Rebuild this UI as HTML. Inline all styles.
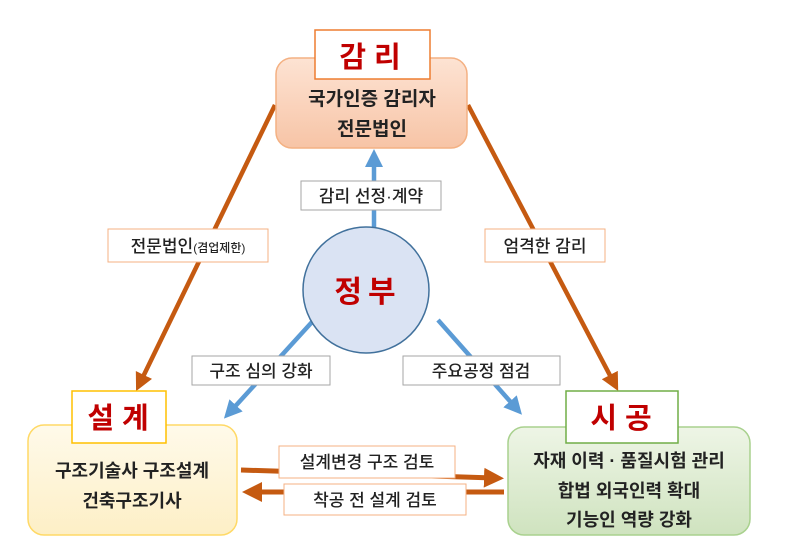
<!DOCTYPE html>
<html><head><meta charset="utf-8"><style>
body{margin:0;background:#fff;}
svg text{font-family:"Liberation Sans","Noto Sans CJK KR",sans-serif;}
</style></head><body>
<svg width="800" height="555" viewBox="0 0 800 555" xmlns="http://www.w3.org/2000/svg">
<defs>
<linearGradient id="gTop" x1="0" y1="0" x2="0" y2="1"><stop offset="0" stop-color="#fde3d3"/><stop offset="1" stop-color="#f7c4a6"/></linearGradient>
<linearGradient id="gL" x1="0" y1="0" x2="0" y2="1"><stop offset="0" stop-color="#fffaea"/><stop offset="1" stop-color="#fdefc6"/></linearGradient>
<linearGradient id="gR" x1="0" y1="0" x2="0" y2="1"><stop offset="0" stop-color="#eef5e6"/><stop offset="1" stop-color="#cfe3bf"/></linearGradient>
<marker id="ao" markerWidth="4" markerHeight="4" refX="2" refY="2" orient="auto" markerUnits="strokeWidth"><path d="M0,0 L4,2 L0,4z" fill="#c55a11"/></marker>
<marker id="ab" markerWidth="4" markerHeight="4" refX="2" refY="2" orient="auto" markerUnits="strokeWidth"><path d="M0,0 L4,2 L0,4z" fill="#5b9bd5"/></marker>
</defs>
<line x1="275" y1="105" x2="140" y2="383" stroke="#c55a11" stroke-width="4.5" marker-end="url(#ao)"/>
<line x1="468" y1="105" x2="614" y2="383" stroke="#c55a11" stroke-width="4.5" marker-end="url(#ao)"/>
<line x1="374" y1="228" x2="374" y2="158" stroke="#5b9bd5" stroke-width="4.5" marker-end="url(#ab)"/>
<line x1="312" y1="322" x2="230" y2="412" stroke="#5b9bd5" stroke-width="4.5" marker-end="url(#ab)"/>
<line x1="438" y1="320" x2="516" y2="408" stroke="#5b9bd5" stroke-width="4.5" marker-end="url(#ab)"/>
<rect x="276" y="58" width="191" height="90" rx="16" fill="url(#gTop)" stroke="#f4b183" stroke-width="1.5"/>
<rect x="315" y="30" width="115" height="49" fill="#fff" stroke="#ed7d31" stroke-width="1.5"/>
<text x="374" y="67" font-size="29" font-weight="bold" fill="#c00000" text-anchor="middle" letter-spacing="8">감리</text>
<text x="372" y="105" font-size="19" font-weight="bold" fill="#222" text-anchor="middle">국가인증 감리자</text>
<text x="372" y="135" font-size="19" font-weight="bold" fill="#222" text-anchor="middle">전문법인</text>
<circle cx="366" cy="290" r="63" fill="#dae3f3" stroke="#41719c" stroke-width="1.5"/>
<text x="368" y="302" font-size="30" font-weight="bold" fill="#c00000" text-anchor="middle" letter-spacing="6">정부</text>
<rect x="301" y="181" width="140" height="29" fill="#fff" stroke="#a6a6a6"/>
<text x="371" y="202" font-size="17" font-weight="500" fill="#222" text-anchor="middle">감리 선정·계약</text>
<rect x="108" y="229" width="160" height="33" fill="#fff" stroke="#f4b183"/>
<text x="188" y="252" font-size="17" font-weight="500" fill="#222" text-anchor="middle">전문법인<tspan font-size="12">(겸업제한)</tspan></text>
<rect x="485" y="229" width="120" height="33" fill="#fff" stroke="#f4b183"/>
<text x="545" y="252" font-size="17" font-weight="500" fill="#222" text-anchor="middle">엄격한 감리</text>
<rect x="192" y="356" width="138" height="29" fill="#fff" stroke="#a6a6a6"/>
<text x="261" y="377" font-size="17" font-weight="500" fill="#222" text-anchor="middle">구조 심의 강화</text>
<rect x="403" y="356" width="157" height="29" fill="#fff" stroke="#a6a6a6"/>
<text x="481" y="377" font-size="17" font-weight="500" fill="#222" text-anchor="middle">주요공정 점검</text>
<rect x="28" y="425" width="209" height="110" rx="16" fill="url(#gL)" stroke="#ffd966" stroke-width="1.5"/>
<rect x="72" y="391" width="94" height="52" fill="#fff" stroke="#ffc000" stroke-width="1.5"/>
<text x="122" y="428" font-size="29" font-weight="bold" fill="#c00000" text-anchor="middle" letter-spacing="8">설계</text>
<text x="132" y="477" font-size="18" font-weight="bold" fill="#222" text-anchor="middle">구조기술사 구조설계</text>
<text x="132" y="507" font-size="18" font-weight="bold" fill="#222" text-anchor="middle">건축구조기사</text>
<rect x="508" y="427" width="242" height="108" rx="16" fill="url(#gR)" stroke="#a9d18e" stroke-width="1.5"/>
<rect x="566" y="391" width="112" height="52" fill="#fff" stroke="#70ad47" stroke-width="1.5"/>
<text x="625" y="428" font-size="29" font-weight="bold" fill="#c00000" text-anchor="middle" letter-spacing="8">시공</text>
<text x="629" y="467" font-size="18" font-weight="bold" fill="#222" text-anchor="middle">자재 이력 · 품질시험 관리</text>
<text x="629" y="497" font-size="18" font-weight="bold" fill="#222" text-anchor="middle">합법 외국인력 확대</text>
<text x="629" y="526" font-size="18" font-weight="bold" fill="#222" text-anchor="middle">기능인 역량 강화</text>
<line x1="241" y1="470" x2="494" y2="478" stroke="#c55a11" stroke-width="5" marker-end="url(#ao)"/>
<line x1="504" y1="492" x2="252" y2="492" stroke="#c55a11" stroke-width="5" marker-end="url(#ao)"/>
<rect x="279" y="446" width="176" height="32" fill="#fff" stroke="#f4b183"/>
<text x="367" y="468" font-size="17" font-weight="500" fill="#222" text-anchor="middle">설계변경 구조 검토</text>
<rect x="284" y="484" width="182" height="31" fill="#fff" stroke="#f4b183"/>
<text x="375" y="506" font-size="17" font-weight="500" fill="#222" text-anchor="middle">착공 전 설계 검토</text>
</svg>
</body></html>
